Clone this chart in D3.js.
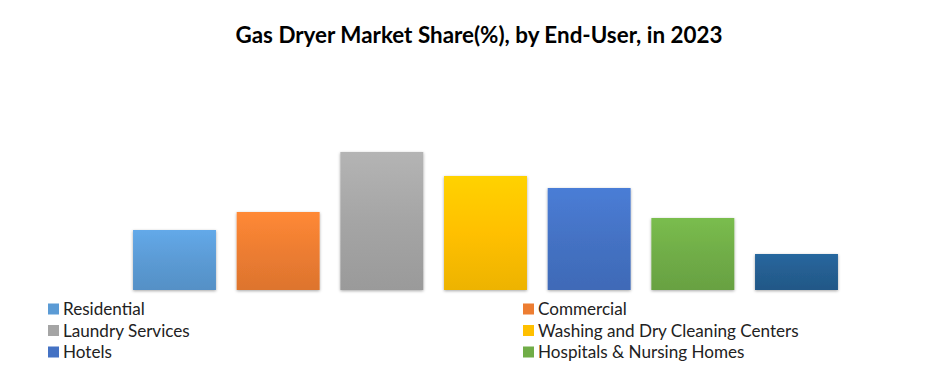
<!DOCTYPE html>
<html><head><meta charset="utf-8">
<script src="https://cdn.jsdelivr.net/npm/d3@7"></script>
<style>body{margin:0;background:#fff;} svg{display:block;}</style>
</head><body>
<script>
const categories = ["Residential","Commercial","Laundry Services","Washing and Dry Cleaning Centers","Hotels","Hospitals & Nursing Homes","Others"];
const values = [10, 13, 23, 19, 17, 12, 6];
const colors = ["#5B9BD5","#ED7D31","#A5A5A5","#FFC000","#4472C4","#70AD47","#255E91"];
const legendCount = 6; // only six entries are visible in the reference
const title = "Gas Dryer Market Share(%), by End-User, in 2023";

const W = 950, H = 369;
const svg = d3.select("body").append("svg").attr("width", W).attr("height", H);
const defs = svg.append("defs");
const f = defs.append("filter").attr("id","sh").attr("x","-10%").attr("y","-10%").attr("width","120%").attr("height","120%");
f.append("feDropShadow").attr("dx",0).attr("dy",1).attr("stdDeviation",1.5).attr("flood-color","#000").attr("flood-opacity",0.35);

colors.forEach((c,i)=>{
  const g = defs.append("linearGradient").attr("id","g"+i).attr("x1",0).attr("y1",0).attr("x2",0).attr("y2",1);
  g.append("stop").attr("offset","0%").attr("stop-color", d3.color(c).brighter(0.25));
  g.append("stop").attr("offset","50%").attr("stop-color", c);
  g.append("stop").attr("offset","100%").attr("stop-color", d3.color(c).darker(0.2));
});

const x = d3.scaleBand().domain(categories).range([112.3, 858.7]).paddingInner(0.2).paddingOuter(0.2);
const y = d3.scaleLinear().domain([0, 25]).range([290, 140]);

svg.append("text").attr("x", 479).attr("y", 43).attr("text-anchor","middle")
  .attr("font-family","Lato, 'Open Sans', sans-serif").attr("font-weight","bold").attr("font-size",22.4)
  .attr("fill","#000").text(title);

svg.append("g").selectAll("rect").data(categories).join("rect")
  .attr("x", d => x(d)).attr("width", x.bandwidth())
  .attr("y", (d,i) => y(values[i])).attr("height", (d,i) => y(0) - y(values[i]))
  .attr("fill", (d,i) => `url(#g${i})`).attr("filter","url(#sh)");

const lg = svg.append("g");
const colX = [48, 523], rowY = [309, 330.5, 352];
categories.slice(0, legendCount).forEach((c,i)=>{
  const cx = colX[i%2], cy = rowY[Math.floor(i/2)];
  lg.append("rect").attr("x", cx).attr("y", cy-5.5).attr("width",11).attr("height",11).attr("fill", colors[i]);
  lg.append("text").attr("x", cx+15).attr("y", cy+6).attr("font-family","Lato, 'Open Sans', sans-serif")
    .attr("font-size",17.1).attr("fill","#222").text(c);
});
</script>
</body></html>
